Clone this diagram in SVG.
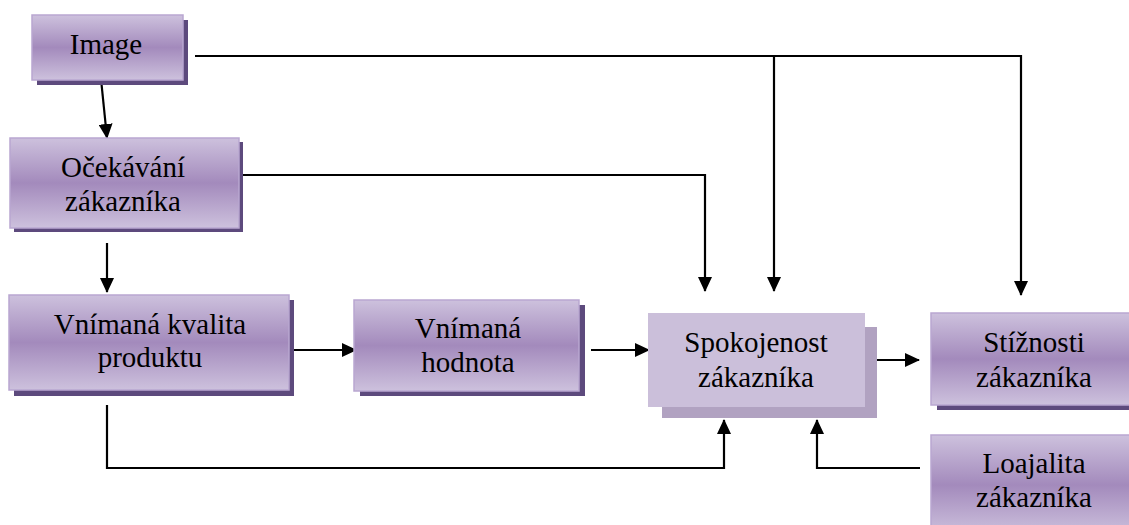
<svg xmlns="http://www.w3.org/2000/svg" width="1129" height="525" viewBox="0 0 1129 525">
<defs>
<linearGradient id="g" x1="0" y1="0" x2="0" y2="1">
<stop offset="0" stop-color="#cdc1dd"/>
<stop offset="0.5" stop-color="#a38abc"/>
<stop offset="1" stop-color="#cdc1dd"/>
</linearGradient>
<marker id="ah" viewBox="0 0 15 14" refX="14" refY="7" markerWidth="15" markerHeight="14" markerUnits="userSpaceOnUse" orient="auto">
<path d="M0,0 L15,7 L0,14 z" fill="#000"/>
</marker>
<style>
.box{fill:url(#g);stroke:#b9a7d1;stroke-width:1.5}
.sh{fill:#5d4a7d}
.t{font-size:29px;fill:#000;text-anchor:middle}
.c{fill:none;stroke:#000;stroke-width:2.2;marker-end:url(#ah)}
</style>
</defs>
<rect width="1129" height="525" fill="#fff"/>
<g id="connectors">
<path class="c" d="M101,79 L107,138"/>
<path class="c" d="M195,56 L1021,56 L1021,295"/>
<path class="c" d="M774,56 L774,291"/>
<path class="c" d="M239,175 L705,175 L705,291"/>
<path class="c" d="M107,243 L107,292"/>
<path class="c" d="M293,350 L356,350"/>
<path class="c" d="M591,350 L649,350"/>
<path class="c" d="M863,360 L919,360"/>
<path class="c" d="M107,405 L107,468 L724,468 L724,420"/>
<path class="c" d="M920,468 L817,468 L817,420"/>
</g>
<g font-family="'Liberation Serif', 'Times New Roman', Times, 'DejaVu Serif', serif">
<g id="image">
<rect class="sh" x="37" y="20" width="151" height="65"/>
<rect class="box" x="32" y="15" width="151" height="65"/>
<text class="t" x="106" y="54">Image</text>
</g>
<g id="ocekavani">
<rect class="sh" x="14" y="142" width="229" height="90"/>
<rect class="box" x="10" y="138" width="229" height="90"/>
<text class="t" x="123" y="177">Očekávání</text>
<text class="t" x="123" y="211">zákazníka</text>
</g>
<g id="kvalita">
<rect class="sh" x="14" y="300" width="280" height="96"/>
<rect class="box" x="9" y="295" width="280" height="95"/>
<text class="t" x="150" y="334">Vnímaná kvalita</text>
<text class="t" x="150" y="367">produktu</text>
</g>
<g id="hodnota">
<rect class="sh" x="360" y="305" width="225" height="91"/>
<rect class="box" x="354" y="300" width="225" height="91"/>
<text class="t" x="468" y="338">Vnímaná</text>
<text class="t" x="468" y="372">hodnota</text>
</g>
<g id="spokojenost">
<rect x="662" y="327" width="215" height="91" fill="#b1a2c1"/>
<rect x="648" y="313" width="217" height="94" fill="#cbbfda"/>
<text class="t" x="756" y="352">Spokojenost</text>
<text class="t" x="756" y="387">zákazníka</text>
</g>
<g id="stiznosti">
<rect class="sh" x="937" y="318" width="206" height="92"/>
<rect class="box" x="931" y="313" width="206" height="92"/>
<text class="t" x="1034" y="352">Stížnosti</text>
<text class="t" x="1034" y="387">zákazníka</text>
</g>
<g id="loajalita">
<rect class="sh" x="937" y="440" width="206" height="100"/>
<rect class="box" x="931" y="435" width="206" height="100"/>
<text class="t" x="1034" y="473">Loajalita</text>
<text class="t" x="1034" y="507">zákazníka</text>
</g>
</g>
</svg>
